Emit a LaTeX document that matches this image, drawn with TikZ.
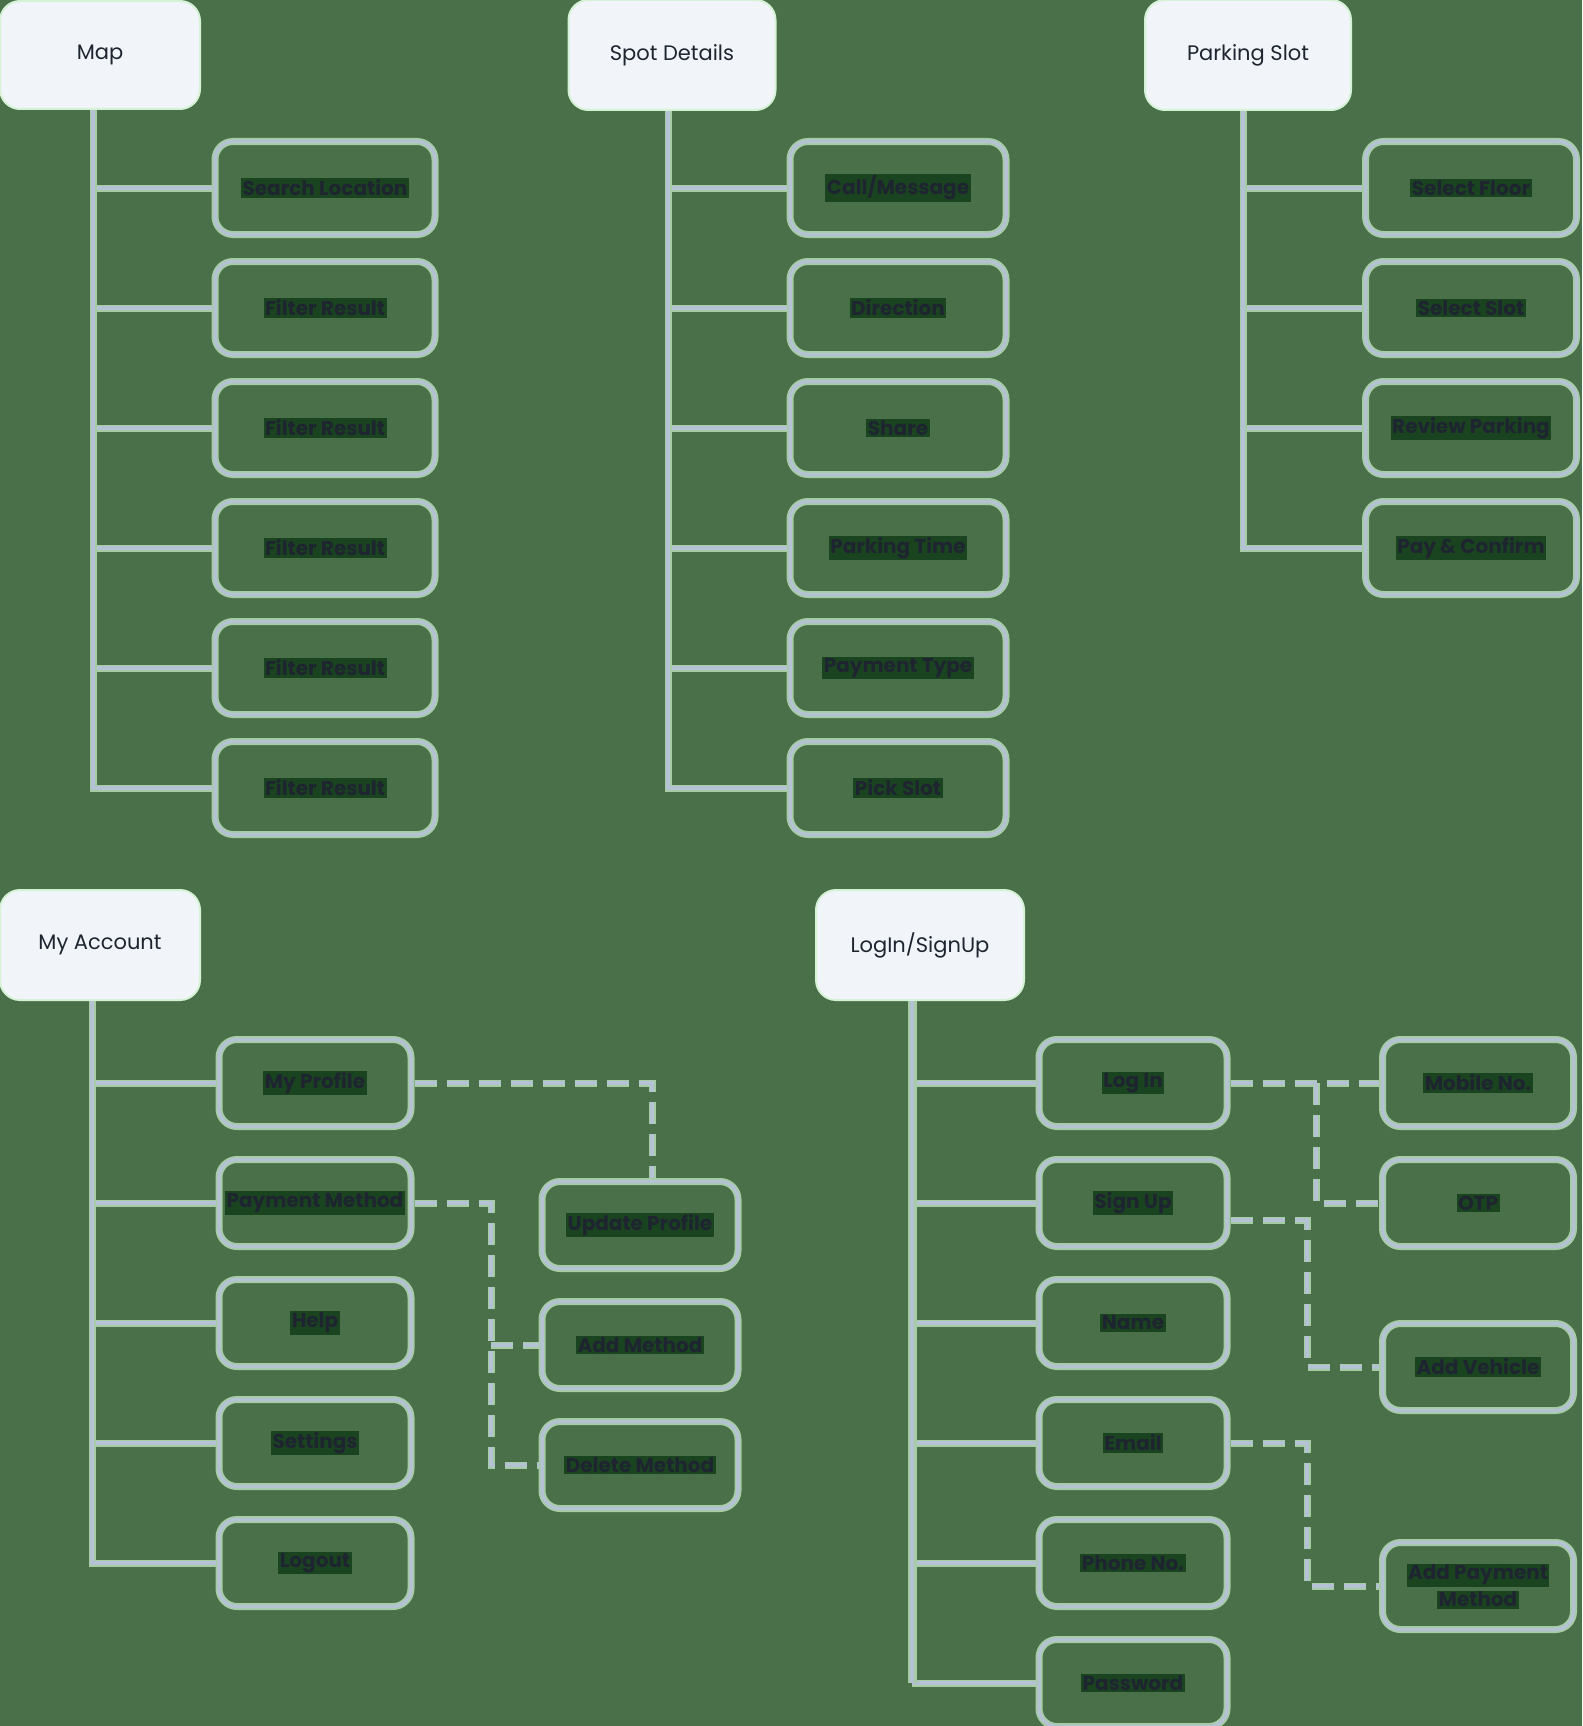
\documentclass[tikz,border=0pt]{standalone}
\usepackage{fontspec}
\setmainfont{Poppins}
\usepackage{tikz}
\usetikzlibrary{positioning}

\definecolor{bgGreen}{HTML}{4A7049}
\definecolor{lnCore}{HTML}{B4C2D4}
\definecolor{lnHalo}{HTML}{A6CCA6}
\definecolor{rootFill}{HTML}{F1F5F9}
\definecolor{rootEdge}{HTML}{D6F2D6}
\definecolor{txtDark}{HTML}{1E2530}
\definecolor{txtBg}{HTML}{1A4320}

\newcommand{\tbg}[1]{{\setlength{\fboxsep}{1.5pt}\colorbox{txtBg}{#1}}}

\tikzset{
  rootbox/.style={fill=rootFill, draw=rootEdge, line width=2, rounded corners=20,
    minimum height=108, text=txtDark, font=\fontsize{21}{25}\selectfont},
  leafbox/.style={draw=lnHalo, line width=7, rounded corners=18, minimum height=87,
    text=txtDark, font=\bfseries\fontsize{20}{24}\selectfont, align=center,
    postaction={draw=lnCore, line width=3.5}},
  tallleaf/.style={leafbox, minimum height=93},
  tree/.style={draw=lnHalo, line width=7, postaction={draw=lnCore, line width=4}},
  dashlink/.style={tree, dash pattern=on 22 off 10}
}

\begin{document}
\begin{tikzpicture}[x=1pt, y=-1pt]
    \fill[bgGreen] (0,0) rectangle (1582,1726);
    \useasboundingbox (0,0) rectangle (1582,1726);

    % Map
    \node[rootbox, minimum width=200] (map) at (100,55) {Map};
    \coordinate (mapK) at (93,0);
    \foreach \t [count=\i] in {Search Location, Filter Result, Filter Result, Filter Result, Filter Result, Filter Result} {
        \node[tallleaf, minimum width=220] (map\i) at (325,{68+120*\i}) {\tbg{\t}};
        \draw[tree] (map\i.west) -- (map\i.west -| mapK);
    }
    \draw[tree] (map.south -| mapK) |- (map6.west);

    % Spot Details
    \node[rootbox, minimum width=207, minimum height=110] (spot) at (672,55) {Spot Details};
    \coordinate (spotK) at (668,0);
    \foreach \t [count=\i] in {Call/Message, Direction, Share, Parking Time, Payment Type, Pick Slot} {
        \node[tallleaf, minimum width=216] (spot\i) at (898,{68+120*\i}) {\tbg{\t}};
        \draw[tree] (spot\i.west) -- (spot\i.west -| spotK);
    }
    \draw[tree] (spot.south -| spotK) |- (spot6.west);

    % Parking Slot
    \node[rootbox, minimum width=206, minimum height=110] (park) at (1248,55) {Parking Slot};
    \coordinate (parkK) at (1243,0);
    \foreach \t [count=\i] in {Select Floor, Select Slot, Review Parking, Pay \& Confirm} {
        \node[tallleaf, minimum width=211] (park\i) at (1471,{68+120*\i}) {\tbg{\t}};
        \draw[tree] (park\i.west) -- (park\i.west -| parkK);
    }
    \draw[tree] (park.south -| parkK) |- (park4.west);

    % My Account
    \node[rootbox, minimum width=200, minimum height=110] (acc) at (100,945) {My Account};
    \coordinate (accK) at (92,0);
    \foreach \t [count=\i] in {My Profile, Payment Method, Help, Settings, Logout} {
        \node[leafbox, minimum width=192] (acc\i) at (315,{963+120*\i}) {\tbg{\t}};
        \draw[tree] (acc\i.west) -- (acc\i.west -| accK);
    }
    \draw[tree] (acc.south -| accK) |- (acc5.west);

    \node[leafbox, minimum width=196] (upd) at (640,1225) {\tbg{Update Profile}};
    \node[leafbox, minimum width=196] (addm) at (640,1345) {\tbg{Add Method}};
    \node[leafbox, minimum width=196] (delm) at (640,1465) {\tbg{Delete Method}};
    \coordinate (profK) at (652,1083);
    \coordinate (payK) at (491,1203);
    \draw[dashlink] (acc1.east) -- (profK) -- (profK |- upd.north);
    \draw[dashlink] (acc2.east) -- (payK) |- (delm.west);
    \draw[dashlink] (payK |- addm.west) -- (addm.west);

    % LogIn/SignUp
    \node[rootbox, minimum width=208, minimum height=110] (log) at (920,945) {LogIn/SignUp};
    \coordinate (logK) at (912,0);
    \foreach \t [count=\i] in {Log In, Sign Up, Name, Email, Phone No., Password} {
        \node[leafbox, minimum width=188] (log\i) at (1133,{963+120*\i}) {\tbg{\t}};
        \draw[tree] (log\i.west) -- (log\i.west -| logK);
    }
    \draw[tree, line width=9, postaction={line width=6}] (log.south -| logK) -- (logK |- log6.west);

    \node[leafbox, minimum width=191] (mob) at (1478,1083) {\tbg{Mobile No.}};
    \node[leafbox, minimum width=191] (otp) at (1478,1203) {\tbg{OTP}};
    \node[leafbox, minimum width=191] (veh) at (1478,1367) {\tbg{Add Vehicle}};
    \node[leafbox, minimum width=191] (apm) at (1478,1586) {\tbg{Add Payment}\\[3pt]\tbg{Method}};
    \coordinate (mobK) at (1316,1083);
    \coordinate (signK) at (1307,1220);
    \coordinate (mailK) at (1307,1443);
    \draw[dashlink] (log1.east) -- (mob.west);
    \draw[dashlink] (mobK) |- (otp.west);
    \draw[dashlink] (log2.east |- signK) -- (signK) |- (veh.west);
    \draw[dashlink] (log4.east) -- (mailK) |- (apm.west);
\end{tikzpicture}
\end{document}
